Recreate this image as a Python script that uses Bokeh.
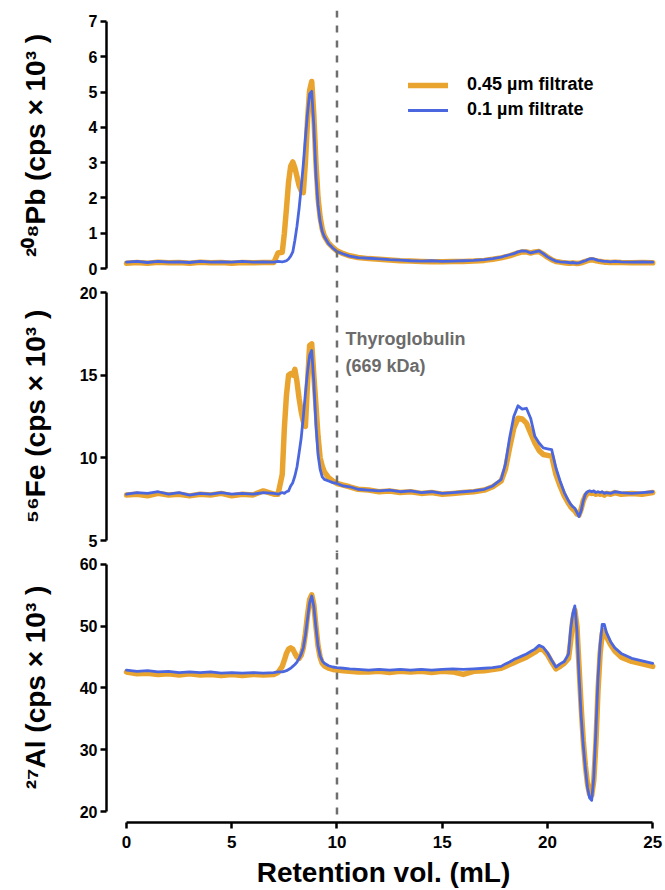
from bokeh.plotting import figure
from bokeh.layouts import column
from bokeh.models import Range1d, FixedTicker, Span, Label, Legend, LegendItem
from bokeh.embed import file_html
from bokeh.resources import INLINE

# ---------------- data ----------------
vol = [0.0, 0.5, 1.0, 1.5, 2.0, 2.5, 3.0, 3.5, 4.0, 4.5, 5.0, 5.5, 6.0, 6.5, 7.0,
       7.2, 7.4, 7.5, 7.6, 7.7, 7.8, 7.9, 8.0, 8.1, 8.2, 8.3, 8.4, 8.5, 8.6, 8.7,
       8.8, 8.9, 9.0, 9.1, 9.2, 9.3, 9.4, 9.6, 9.8, 10.0, 10.3, 10.6, 11.0, 11.5,
       12.0, 12.5, 13.0, 13.5, 14.0, 14.5, 15.0, 15.5, 16.0, 16.5, 17.0, 17.4, 17.8,
       18.0, 18.2, 18.4, 18.6, 18.8, 19.0, 19.2, 19.4, 19.6, 19.8, 20.0, 20.2, 20.4,
       20.6, 20.8, 21.0, 21.1, 21.2, 21.3, 21.4, 21.5, 21.6, 21.7, 21.8, 21.9, 22.0,
       22.1, 22.2, 22.3, 22.4, 22.5, 22.6, 22.7, 22.8, 23.0, 23.2, 23.5, 24.0, 24.5, 25.0]

pb_045 = [0.15, 0.17, 0.15, 0.18, 0.16, 0.17, 0.15, 0.18, 0.16, 0.17, 0.15, 0.17, 0.16, 0.17, 0.17,
          0.44, 0.46, 1.0, 1.7, 2.45, 2.9, 3.02, 2.85, 2.6, 2.35, 2.2, 2.15, 3.0, 4.2, 5.05,
          5.3, 4.35, 3.0, 2.0, 1.45, 1.12, 0.92, 0.72, 0.6, 0.5, 0.42, 0.36, 0.31, 0.28,
          0.26, 0.24, 0.22, 0.21, 0.2, 0.19, 0.19, 0.2, 0.2, 0.21, 0.23, 0.26, 0.3,
          0.33, 0.36, 0.4, 0.44, 0.47, 0.47, 0.44, 0.47, 0.48, 0.41, 0.32, 0.25, 0.2,
          0.18, 0.16, 0.15, 0.15, 0.16, 0.15, 0.14, 0.15, 0.16, 0.18, 0.2, 0.22, 0.24,
          0.25, 0.24, 0.22, 0.21, 0.2, 0.19, 0.18, 0.18, 0.17, 0.18, 0.17, 0.16, 0.17, 0.16]

pb_01 = [0.18, 0.2, 0.17, 0.2, 0.18, 0.19, 0.17, 0.2, 0.18, 0.19, 0.18, 0.2, 0.18, 0.19, 0.18,
         0.2, 0.19, 0.2, 0.22, 0.27, 0.35, 0.47, 0.8, 1.2, 1.7, 2.3, 2.95, 3.7, 4.4, 4.95,
         5.02, 4.05, 2.65, 1.8, 1.33, 1.05, 0.9, 0.7, 0.58, 0.48, 0.41, 0.35, 0.31, 0.29,
         0.27, 0.25, 0.24, 0.22, 0.21, 0.22, 0.2, 0.21, 0.22, 0.23, 0.25, 0.28, 0.32,
         0.36, 0.39, 0.42, 0.47, 0.5, 0.49, 0.44, 0.47, 0.5, 0.42, 0.33, 0.26, 0.21,
         0.19, 0.18, 0.17, 0.16, 0.17, 0.16, 0.15, 0.16, 0.18, 0.2, 0.22, 0.25, 0.27,
         0.28, 0.27, 0.25, 0.23, 0.22, 0.21, 0.2, 0.2, 0.19, 0.2, 0.19, 0.18, 0.19, 0.18]

fe_045 = [7.75, 7.8, 7.7, 7.85, 7.75, 7.8, 7.7, 7.8, 7.75, 7.85, 7.7, 7.8, 7.75, 8.0, 7.8,
          7.8, 9.0, 11.8, 13.8, 15.0, 15.1, 15.0, 15.35, 14.6, 13.6, 12.8, 12.2, 11.9, 14.5, 16.8,
          16.9, 15.0, 13.2, 11.3, 10.0, 9.5, 9.15, 8.8, 8.6, 8.45, 8.35, 8.25, 8.1, 8.05,
          7.95, 8.0, 7.9, 7.95, 7.85, 7.9, 7.8, 7.85, 7.9, 7.95, 8.05, 8.25, 8.6,
          9.3, 10.6, 11.8, 12.4, 12.35, 12.1, 11.5, 10.9, 10.45, 10.2, 10.15, 10.1, 9.0,
          8.3, 7.7, 7.25, 7.05, 6.9, 6.8, 6.6, 6.55, 6.9, 7.4, 7.7, 7.85, 7.9,
          7.85, 7.9, 7.8, 7.85, 7.8, 7.85, 7.75, 7.85, 7.8, 7.9, 7.8, 7.85, 7.8, 7.9]

fe_01 = [7.8, 7.9, 7.85, 7.95, 7.8, 7.9, 7.75, 7.85, 7.8, 7.9, 7.8, 7.85, 7.8, 7.9, 7.85,
         7.8, 7.9, 7.85, 7.95, 8.0, 8.3, 8.5, 8.9, 9.45, 10.3, 11.2, 12.5, 13.9, 15.2, 16.2,
         16.5, 14.6, 12.0, 10.2, 9.3, 8.85, 8.7, 8.6, 8.5, 8.45, 8.3, 8.25, 8.1, 8.05,
         8.0, 8.05, 7.95, 8.0, 7.9, 7.95, 7.85, 7.9, 7.95, 8.0, 8.1, 8.3, 8.7,
         9.6, 11.2, 12.5, 13.15, 12.95, 13.0, 12.4, 11.3, 10.9, 10.6, 10.55, 10.5, 9.4,
         8.6, 7.9, 7.4, 7.2, 7.05, 6.95, 6.7, 6.45, 6.8, 7.4, 7.8, 7.95, 8.0,
         7.95, 8.0, 7.9, 7.95, 7.9, 7.95, 7.85, 7.9, 7.85, 7.95, 7.9, 7.85, 7.9, 7.95]

al_045 = [42.6, 42.3, 42.4, 42.2, 42.3, 42.1, 42.3, 42.1, 42.2, 42.0, 42.2, 42.0, 42.2, 42.1, 42.2,
          42.5, 43.5, 44.5, 45.6, 46.3, 46.5, 46.3, 45.6, 45.0, 44.8, 45.3, 46.5, 48.8, 51.8, 54.3,
          55.1, 53.5, 50.0, 46.8, 45.0, 44.0, 43.6, 43.2, 43.0, 42.9, 42.8, 42.7, 42.6, 42.6,
          42.7, 42.5, 42.7, 42.6, 42.7, 42.5, 42.7, 42.6, 42.2, 42.7, 42.8, 43.0, 43.2,
          43.5, 43.8, 44.1, 44.4, 44.7, 45.0, 45.4, 45.8, 46.3, 46.2, 45.4, 44.2, 43.1,
          43.5, 44.0, 44.8, 47.5, 51.0, 52.6, 50.0, 43.5, 37.0, 31.5, 27.5, 24.5, 22.8,
          22.6, 25.0, 31.0, 39.5, 45.5, 48.8, 49.3, 48.3, 47.0, 46.0, 45.0, 44.3, 43.9, 43.5]

al_01 = [42.9, 42.7, 42.8, 42.6, 42.7, 42.5, 42.6, 42.5, 42.6, 42.4, 42.5, 42.4, 42.5, 42.4, 42.5,
         42.6, 42.6, 42.7, 42.8, 43.0, 43.2, 43.5, 43.8, 44.2, 44.8, 45.5, 46.5, 48.5, 51.2, 53.8,
         54.9, 53.2, 49.8, 46.8, 45.2, 44.4, 44.0, 43.6, 43.4, 43.3, 43.2, 43.1, 43.0, 42.9,
         43.0, 42.9, 43.0, 42.9, 43.0, 42.9, 43.0, 43.1, 43.0, 43.1, 43.2, 43.3, 43.5,
         43.9, 44.2, 44.6, 44.9, 45.2, 45.5, 45.9, 46.3, 46.9, 46.6, 45.7, 44.5, 43.4,
         43.9, 44.3, 45.5, 49.5, 52.0, 53.3, 49.3, 42.0, 35.5, 30.8, 27.0, 23.9, 22.2,
         21.8, 25.5, 33.0, 41.5, 47.0, 50.3, 50.3, 49.0, 47.5, 46.5, 45.6, 44.8, 44.4, 44.0]

x_ticks = [0, 5, 10, 15, 20, 25]
pb_ticks = [0, 1, 2, 3, 4, 5, 6, 7]
fe_ticks = [5, 10, 15, 20]
al_ticks = [20, 30, 40, 50, 60]

series_names = ["0.45 µm filtrate", "0.1 µm filtrate"]
y_labels = ["²⁰⁸Pb (cps × 10³ )", "⁵⁶Fe (cps × 10³ )", "²⁷Al (cps × 10³ )"]
standard_lines = ["Thyroglobulin", "(669 kDa)"]
standard_vol = 10

# ---------------- style ----------------
ORANGE = "#E9A430"
BLUE = "#4B67E0"
FONT = "Liberation Sans"

x_range = Range1d(-0.95, 25.37)


def make_fig(height, y_start, y_end, ticks, bounds, label, label_standoff, top=0, bottom=0, show_x=False):
    p = figure(width=665, height=height, x_range=x_range, y_range=Range1d(y_start, y_end),
               output_backend="svg", toolbar_location=None,
               x_axis_location="below" if show_x else None,
               min_border_left=106, min_border_right=5, min_border_top=top, min_border_bottom=bottom)
    p.outline_line_color = None
    p.xgrid.visible = False
    p.ygrid.visible = False
    p.background_fill_color = "white"
    ax = p.yaxis[0]
    ax.ticker = FixedTicker(ticks=ticks)
    ax.bounds = bounds
    ax.axis_label = label
    ax.axis_label_standoff = label_standoff
    for a in p.axis:
        a.axis_label_text_font = FONT
        a.axis_label_text_font_style = "bold"
        a.axis_label_text_font_size = "28px"
        a.axis_label_text_color = "black"
        a.axis_line_width = 2.5
        a.axis_line_color = "black"
        a.major_tick_line_width = 2.5
        a.major_tick_line_color = "black"
        a.major_tick_out = 6
        a.major_tick_in = 0
        a.minor_tick_line_color = None
        a.major_label_text_font = FONT
        a.major_label_text_font_style = "bold"
        a.major_label_text_font_size = "16px"
        a.major_label_text_color = "black"
    ax.major_label_standoff = 3
    p.add_layout(Span(location=standard_vol, dimension="height", line_color="#6e6e6e",
                      line_width=2.5, line_dash="7 8"))
    return p


p1 = make_fig(280, -0.34, 7.31, pb_ticks, (0, 7), y_labels[0], 35, top=10)
p2 = make_fig(272, 4.274, 20.73, fe_ticks, (5, 20), y_labels[1], 26)
p3 = make_fig(338, 18.22, 61.94, al_ticks, (20, 60), y_labels[2], 26, bottom=68, show_x=True)

xa = p3.xaxis[0]
xa.ticker = FixedTicker(ticks=x_ticks)
xa.bounds = (0, 25)
xa.major_label_standoff = 7
xa.major_label_text_font_size = "17px"
xa.axis_label = "Retention vol. (mL)"
xa.axis_label_standoff = 6

renderers = []
for p, yo, yb in [(p1, pb_045, pb_01), (p2, fe_045, fe_01), (p3, al_045, al_01)]:
    ro = p.line(vol, yo, line_color=ORANGE, line_width=5.5, line_join="round", line_cap="round")
    rb = p.line(vol, yb, line_color=BLUE, line_width=2.8, line_join="round", line_cap="round")
    renderers.append((ro, rb))

legend = Legend(items=[LegendItem(label=series_names[0], renderers=[renderers[0][0]]),
                       LegendItem(label=series_names[1], renderers=[renderers[0][1]])],
                location=(302, 160), orientation="vertical")
legend.glyph_width = 40
legend.glyph_height = 20
legend.label_height = 20
legend.spacing = 4
legend.padding = 0
legend.margin = 0
legend.label_standoff = 19
legend.border_line_color = None
legend.background_fill_alpha = 0
legend.label_text_font = FONT
legend.label_text_font_style = "bold"
legend.label_text_font_size = "18px"
legend.label_text_color = "black"
p1.add_layout(legend)

for txt, yv in zip(standard_lines, [17.22, 15.55]):
    p2.add_layout(Label(x=10.4, y=yv, text=txt, text_font=FONT, text_font_style="bold",
                        text_font_size="18px", text_color="#6b6b6b", text_baseline="middle",
                        text_align="left"))

layout = column(p1, p2, p3, spacing=0)
open("out.html", "w").write(file_html(layout, INLINE))
